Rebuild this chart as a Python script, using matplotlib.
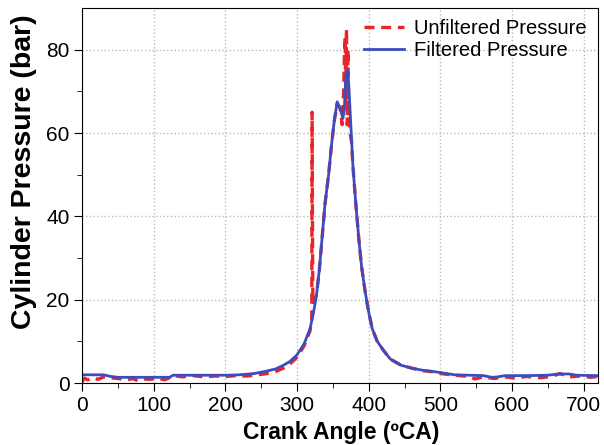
import matplotlib.pyplot as plt
import numpy as np

# ---- dados ----
ca_filtrado = [0, 10, 20, 30, 40, 50, 70, 90, 110, 122, 127, 150, 175, 200, 220, 240, 255, 270,
               280, 290, 300, 310, 318, 323, 327, 331, 335, 339, 344, 348, 352, 356, 360, 364,
               366, 368, 370, 372, 375, 378, 382, 386, 390, 395, 400, 405, 412, 420, 430, 445,
               460, 475, 490, 505, 520, 540, 560, 572, 580, 590, 620, 650, 665, 680, 690, 720]
p_filtrado = [2.0, 2.0, 2.0, 2.0, 1.6, 1.4, 1.4, 1.4, 1.4, 1.4, 1.9, 1.9, 1.9, 1.9, 2.0, 2.3, 2.8, 3.4,
              4.2, 5.2, 6.8, 9.5, 13, 17, 21, 27, 35, 43, 50, 57, 63, 67.5, 66, 63.5,
              66, 73, 75, 72, 62, 52, 43, 35, 28, 22, 17, 13, 10, 8, 5.8, 4.3,
              3.6, 3.1, 2.8, 2.4, 2.0, 1.9, 1.8, 1.4, 1.5, 1.8, 1.8, 1.9, 2.2, 2.2, 1.9, 1.8]

ca_bruto = [0, 3, 8, 15, 22, 30, 38, 45, 55, 62, 70, 78, 85, 95, 105, 115, 122, 127, 140, 155,
            170, 185, 200, 215, 230, 245, 258, 270, 280, 290, 300, 310, 318, 320.5, 321, 321.5, 322,
            327, 331, 335, 339, 344, 348, 352, 356, 360, 363, 365, 366, 367, 368, 369, 370, 371,
            372, 374, 376, 378, 382, 386, 390, 395, 400, 405, 412, 420, 430, 445, 460, 475, 490,
            505, 520, 540, 548, 560, 575, 590, 605, 620, 640, 655, 667, 680, 695, 710, 720]
p_bruto = [0.3, 1.2, 0.8, 1.3, 0.9, 1.5, 1.3, 1.2, 1.0, 0.7, 1.1, 0.6, 1.0, 0.9, 1.2, 0.8, 1.3, 1.8, 1.5, 1.8,
           1.5, 1.7, 1.6, 1.8, 1.7, 2.0, 2.3, 2.8, 3.5, 4.6, 6.2, 9.0, 12.5, 15, 65, 40, 19,
           21, 27, 35, 43, 50, 57, 63, 67, 66, 62, 70, 78, 83, 68, 85, 62, 80,
           66, 60, 58, 52, 43, 35, 28, 22, 17, 13, 10, 8, 5.8, 4.3, 3.6, 3.0, 2.7,
           2.2, 1.9, 1.6, 1.0, 1.5, 1.1, 1.5, 1.2, 1.6, 1.3, 1.6, 2.3, 1.5, 1.7, 1.4, 1.6]

xticks = [0, 100, 200, 300, 400, 500, 600, 700]
yticks = [0, 20, 40, 60, 80]

# ---- figura ----
plt.rcParams['font.family'] = ['Liberation Sans', 'DejaVu Sans']

fig = plt.figure(figsize=(6.04, 4.45), dpi=100)
ax = fig.add_axes([0.136, 0.139, 0.854, 0.843])

ax.plot(ca_bruto, p_bruto, color='#e8262a', lw=2.4, ls=(0, (3, 2)), label='Unfiltered Pressure')
ax.plot(ca_filtrado, p_filtrado, color='#3c4cbf', lw=2.0, label='Filtered Pressure')

ax.set_xlim(0, 720)
ax.set_ylim(0, 90)
ax.set_xticks(xticks)
ax.set_yticks(yticks)
ax.set_xticks(np.arange(50, 720, 100), minor=True)
ax.set_yticks(np.arange(10, 90, 20), minor=True)
ax.tick_params(which='both', direction='out', labelsize=15, top=False, right=False, pad=3)
ax.tick_params(which='major', length=6)
ax.tick_params(which='minor', length=3.5)
ax.grid(True, which='major', ls=':', color='#bbbbbb', lw=1)

ax.set_xlabel('Crank Angle (ºCA)', fontsize=16.5, fontweight='bold', va='center')
ax.set_ylabel('Cylinder Pressure (bar)', fontsize=20.5, fontweight='bold', va='center')
ax.xaxis.set_label_coords(0.503, -0.131)
ax.yaxis.set_label_coords(-0.112, 0.563)

ax.legend(loc='upper right', frameon=False, fontsize=14.5, handlelength=2.0,
          borderaxespad=0.15, labelspacing=0.15, handletextpad=0.5)

fig.savefig('out.png', dpi=100)
